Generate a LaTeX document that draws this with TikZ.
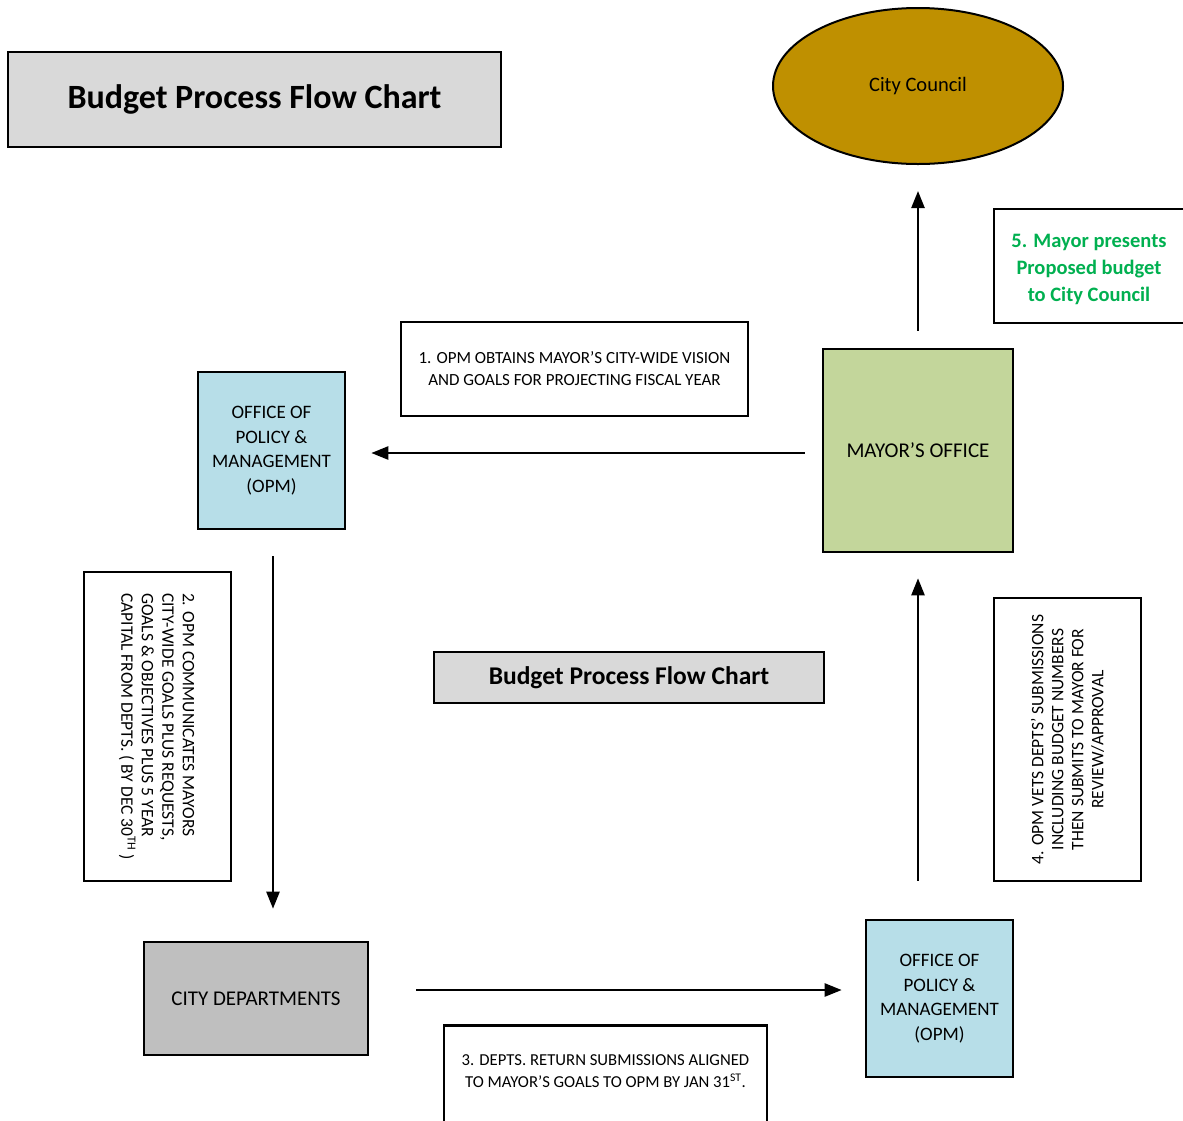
\documentclass[tikz,border=0pt]{standalone}
\usepackage{fontspec}
\setmainfont{Carlito}
\usetikzlibrary{arrows.meta,shapes.geometric}
\definecolor{titlegray}{HTML}{D9D9D9}
\definecolor{deptgray}{HTML}{BFBFBF}
\definecolor{opmblue}{HTML}{B7DEE8}
\definecolor{mayorgreen}{HTML}{C3D69B}
\definecolor{councilgold}{HTML}{BF9000}
\definecolor{textgreen}{HTML}{00B050}
\begin{document}
\begin{tikzpicture}[x=1pt,y=-1pt,
  box/.style={draw=black,line width=2.6pt,inner sep=0pt,align=center,
    font=\fontsize{17}{22}\selectfont},
  unit/.style={draw=black,line width=2.6pt,inner sep=0pt,align=center,
    font=\fontsize{19}{24.5}\selectfont},
  arr/.style={line width=2.4pt,-{Triangle[length=17pt,width=13pt]}}]
\useasboundingbox (0,0) rectangle (1183,1120);
\fill[white] (0,0) rectangle (1183,1120);

\node[box,fill=titlegray,minimum width=493pt,minimum height=95pt,
  font=\fontsize{34}{38}\bfseries] (title) at (254.5,99.5) {Budget Process Flow Chart};

\node[ellipse,draw=black,line width=2pt,fill=councilgold,minimum width=290pt,
  minimum height=156pt,inner sep=0pt,font=\fontsize{20.5}{23}\selectfont] (council) at (918,86) {City Council};

\node[box,minimum width=196pt,minimum height=114pt,text=textgreen,
  font=\fontsize{20.5}{27}\bfseries] (step5) at (1092,266) {};
\node[text=textgreen,align=center,inner sep=0pt,font=\fontsize{20.5}{27}\bfseries]
  (step5t) at ([xshift=-3pt,yshift=-3pt]step5.center)
  {5. Mayor presents\\Proposed budget\\to City Council};

\node[box,minimum width=347pt,minimum height=94pt] (step1) at (574.5,369)
  {1. OPM OBTAINS MAYOR’S CITY-WIDE VISION\\AND GOALS FOR PROJECTING FISCAL YEAR};

\node[unit,fill=opmblue,minimum width=147pt,minimum height=157pt] (opm1) at (271.5,450.5)
  {OFFICE OF\\POLICY \&\\MANAGEMENT\\(OPM)};

\node[unit,fill=mayorgreen,minimum width=190pt,minimum height=203pt,
  font=\fontsize{21}{25}\selectfont] (mayor) at (918,450.5)
  {MAYOR’S OFFICE};

\node[box,minimum width=147pt,minimum height=309pt] (step2) at (157.5,726.5) {};
\node[rotate=-90,align=left,inner sep=0pt,font=\fontsize{17.5}{20.5}\selectfont] (step2t) at ([xshift=-1pt]step2.center)
  {2. OPM COMMUNICATES MAYORS\\CITY-WIDE GOALS PLUS REQUESTS,\\GOALS \& OBJECTIVES PLUS 5 YEAR\\CAPITAL FROM DEPTS. ( BY DEC 30\textsuperscript{TH} )};

\node[box,fill=titlegray,minimum width=390pt,minimum height=51pt,
  font=\fontsize{25.5}{30}\bfseries] (title2) at (629,677.5) {Budget Process Flow Chart};

\node[box,minimum width=147pt,minimum height=283pt] (step4) at (1067.5,739.5) {};
\node[rotate=90,align=center,inner sep=0pt,font=\fontsize{17.5}{20}\selectfont] (step4t) at (step4.center)
  {4. OPM VETS DEPTS’ SUBMISSIONS\\INCLUDING BUDGET NUMBERS\\THEN SUBMITS TO MAYOR FOR\\REVIEW/APPROVAL};

\node[unit,fill=deptgray,minimum width=224pt,minimum height=113pt,
  font=\fontsize{21}{25}\selectfont] (depts) at (256,998.5)
  {CITY DEPARTMENTS};

\node[unit,fill=opmblue,minimum width=147pt,minimum height=157pt] (opm2) at (939.5,998.5)
  {OFFICE OF\\POLICY \&\\MANAGEMENT\\(OPM)};

\node[box,minimum width=323pt,minimum height=110pt,anchor=north] (step3) at (605.5,1024) {};
\node[align=center,inner sep=0pt,font=\fontsize{16.7}{22}\selectfont] (step3t) at (605.5,1071)
  {3. DEPTS. RETURN SUBMISSIONS ALIGNED\\TO MAYOR’S GOALS TO OPM BY JAN 31\textsuperscript{ST}.};

\draw[arr,shorten <=17pt,shorten >=25pt] ([yshift=-2.5pt]mayor.west) -- ([yshift=-2.5pt]mayor.west -| opm1.east);
\draw[arr,shorten <=17pt,shorten >=26pt] (mayor.north) -- (council.south);
\draw[arr,shorten <=26pt,shorten >=32pt] ([xshift=1.5pt]opm1.south) -- ([xshift=1.5pt]opm1.south |- depts.north);
\draw[arr,shorten <=47pt,shorten >=23pt] ([yshift=8.5pt]depts.east) -- ([yshift=8.5pt]depts.east -| opm2.west);
\draw[arr,shorten <=38pt,shorten >=25pt] (mayor.south |- opm2.north) -- (mayor.south);
\end{tikzpicture}
\end{document}
